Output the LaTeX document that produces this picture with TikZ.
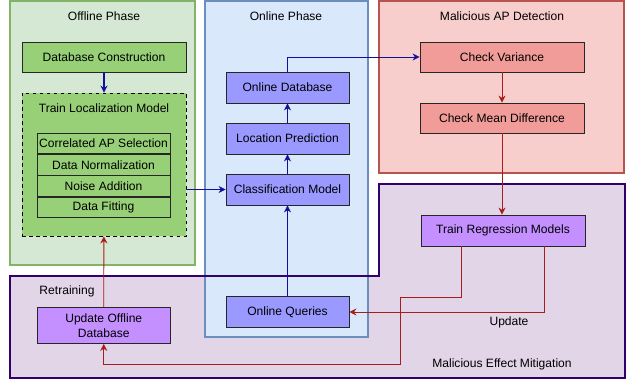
\documentclass[tikz,border=0pt]{standalone}
\usepackage{fontspec}
\setmainfont{Liberation Sans}
\usetikzlibrary{arrows.meta,positioning,calc}

\definecolor{grnfill}{HTML}{D5E8D4}
\definecolor{grnline}{HTML}{82B366}
\definecolor{grnbox}{HTML}{97D077}
\definecolor{blufill}{HTML}{DAE8FC}
\definecolor{bluline}{HTML}{6C8EBF}
\definecolor{blubox}{HTML}{9999FF}
\definecolor{redfill}{HTML}{F8CECC}
\definecolor{redline}{HTML}{B85450}
\definecolor{redbox}{HTML}{F19C99}
\definecolor{purfill}{HTML}{E1D5E7}
\definecolor{purline}{HTML}{33006B}
\definecolor{purbox}{HTML}{C490FF}
\definecolor{bluarrow}{HTML}{10109A}
\definecolor{redarrow}{HTML}{A81C1C}

\begin{document}
\begin{tikzpicture}[x=0.03cm, y=-0.03cm,
    font=\fontsize{10.3}{12.4}\selectfont,
    box/.style={draw=black!85, line width=0.7pt, minimum height=0.9cm, inner sep=1pt, align=center},
    rowbox/.style={draw=black!85, line width=0.7pt, fill=grnbox, minimum width=3.99cm, minimum height=0.615cm, inner sep=0pt},
    bluflow/.style={draw=bluarrow, line width=0.7pt, -{Stealth[length=6pt,width=6pt]}},
    redflow/.style={draw=redarrow, line width=0.7pt, -{Stealth[length=6pt,width=6pt]}},
    region/.style={line width=1.6pt}]
            \useasboundingbox (0, 0) rectangle (631, 381);

            \draw [region, fill=grnfill, draw=grnline] (10, 1) rectangle (195, 265);
            \draw [region, fill=redfill, draw=redline] (379, 1) rectangle (624, 173);
            \fill [purfill] (10, 276) -- (379, 276) -- (379, 184) -- (625, 184) -- (625, 378) -- (10, 378) -- cycle;
            \draw [region, fill=blufill, draw=bluline] (205, 1) rectangle (368, 337);
            \draw [region, draw=purline] (10, 276) -- (379, 276) -- (379, 184) -- (625, 184) -- (625, 378) -- (10, 378) -- cycle;

            \node (offl) at (104, 16) {Offline Phase};
            \node (onl) at (286, 16) {Online Phase};
            \node (mad) at (502, 16) {Malicious AP Detection};

            \node [box, fill=grnbox, minimum width=4.92cm] (dbc) at (104, 57) {Database Construction};
            \node [fill=grnbox, draw=black, dashed, line width=0.7pt, minimum width=4.92cm, minimum height=4.29cm] (tlm) at (104, 164.5) {};
            \node (tlmlbl) at (104, 108) {Train Localization Model};
            \node [rowbox] (cap) at (103.5, 143.5) {Correlated AP Selection};
            \node [rowbox, below=0pt of cap] (dn) {Data Normalization};
            \node [rowbox, below=0pt of dn] (na) {Noise Addition};
            \node [rowbox, below=0pt of na] (df) {Data Fitting};

            \node [box, fill=blubox, minimum width=3.69cm, minimum height=0.93cm] (od) at (287.5, 87.5) {Online Database};
            \node [box, fill=blubox, minimum width=3.69cm, minimum height=0.93cm] (lp) at (287.5, 138.5) {Location Prediction};
            \node [box, fill=blubox, minimum width=3.69cm, minimum height=0.93cm] (cm) at (287.5, 189.5) {Classification Model};
            \node [box, fill=blubox, minimum width=3.69cm, minimum height=0.93cm] (oq) at (287.5, 312) {Online Queries};

            \node [box, fill=redbox, minimum width=4.92cm] (cv) at (502, 57) {Check Variance};
            \node [box, fill=redbox, minimum width=4.92cm] (cmd) at (502, 118) {Check Mean Difference};

            \node [box, fill=purbox, minimum width=4.92cm, minimum height=0.93cm] (trm) at (503, 230.5) {Train Regression Models};
            \node [box, fill=purbox, minimum width=4.0cm, minimum height=1.08cm, inner sep=0pt] (uod) at (103.75, 325.5) {Update Offline\\Database};

            \node (retr) at (67, 291) {Retraining};
            \node (upd) at (509, 322) {Update};
            \node (mem) at (502, 364) {Malicious Effect Mitigation};

            \coordinate (t1) at ($(trm.south west)!0.25!(trm.south east)$);
            \coordinate (t2) at ($(trm.south west)!0.75!(trm.south east)$);
            \coordinate (r1) at (400, 297);
            \coordinate (r2) at (400, 364);

            \draw [bluflow, line width=1.1pt] (dbc) to (tlm);
            \draw [bluflow] (tlm.east |- cm.west) to (cm.west);
            \draw [bluflow] (oq) to (cm);
            \draw [bluflow] (cm) to (lp);
            \draw [bluflow] (lp) to (od);
            \draw [bluflow] (od.north) |- (cv.west);

            \draw [redflow] (cv) to (cmd);
            \draw [redflow] (cmd.south) to (trm.north -| cmd.south);
            \draw [redflow] (t2) |- (oq.east);
            \draw [redflow] (t1) |- (r1) to (r2) -| (uod.south);
            \draw [redflow] (uod) to (tlm);
        \end{tikzpicture}
\end{document}
